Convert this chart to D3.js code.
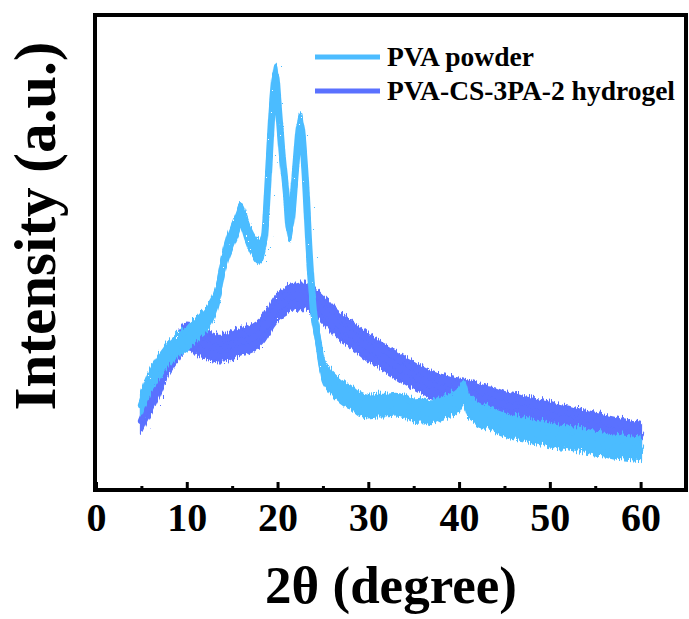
<!DOCTYPE html>
<html>
<head>
<meta charset="utf-8">
<script src="https://cdn.jsdelivr.net/npm/d3@7"></script>
<style>
  html, body { margin: 0; padding: 0; background: #fff; }
  svg text { font-family: "Liberation Serif", "Times New Roman", serif; font-weight: bold; fill: #000; }
</style>
</head>
<body>
<div id="chart"></div>
<script>
// 2-theta positions (degree)
const pvaX = [5, 5.5, 6, 6.5, 7, 7.5, 8, 8.5, 9, 9.5, 10, 10.5, 11, 11.5, 12, 12.5, 13, 13.5, 14, 14.5,
  15, 15.5, 16, 16.5, 17, 17.5, 18, 18.5, 19, 19.5, 19.8, 20, 20.5, 21, 21.3, 21.5, 22, 22.5, 23, 23.5,
  24, 24.5, 25, 25.5, 26, 26.5, 27, 27.5, 28, 29, 30, 31, 32, 33, 34, 35, 36, 37, 38, 39,
  40, 40.5, 41, 41.5, 42, 43, 44, 45, 46, 47, 48, 49, 50, 51, 52, 53, 54, 55, 56, 57, 58, 59, 60];
const pvaY = [18.9, 21.5, 23.6, 25.3, 26.9, 28.2, 29.5, 30.3, 31.4, 32.0, 32.6, 33.7, 34.3, 35.4, 36.2, 37.5, 39.4, 42.5, 48.0, 51.6,
  54.1, 56.4, 58.5, 56.0, 53.5, 51.8, 50.9, 53.1, 67.4, 83.2, 88.0, 83.8, 71.6, 62.1, 55.6, 57.3, 68.4, 77.8, 68.4, 50.5,
  37.9, 32.0, 26.1, 24.4, 23.2, 22.3, 21.5, 20.8, 20.4, 18.9, 18.3, 18.5, 18.5, 18.7, 18.3, 17.3, 17.5, 17.1, 17.9, 18.5,
  19.8, 21.3, 18.5, 17.7, 16.8, 16.0, 15.2, 14.5, 13.9, 13.5, 13.1, 12.6, 12.2, 11.8, 11.6, 11.2, 10.9, 10.5, 10.3, 9.9, 9.7, 9.5, 9.3];

const gelX = [5, 5.5, 6, 6.5, 7, 7.5, 8, 8.5, 9, 9.5, 10, 10.5, 11, 11.5, 12, 12.5, 13, 13.5, 14, 14.5,
  15, 15.5, 16, 16.5, 17, 17.5, 18, 18.5, 19, 19.5, 20, 20.5, 21, 21.5, 22, 22.5, 23, 23.5, 24, 25,
  26, 27, 28, 29, 30, 31, 32, 33, 34, 35, 36, 37, 38, 39, 40, 41, 42, 43, 44, 45,
  46, 47, 48, 49, 50, 51, 52, 53, 54, 55, 56, 57, 58, 59, 60];
const gelY = [15.6, 17.7, 19.4, 21.5, 23.6, 25.9, 28.0, 29.5, 30.9, 32.2, 33.3, 33.1, 32.0, 31.6, 31.4, 30.9, 30.7, 30.5, 30.5, 30.7,
  31.2, 31.6, 32.0, 32.2, 32.6, 33.1, 33.7, 34.7, 36.2, 37.9, 39.2, 40.0, 40.6, 41.1, 41.3, 41.5, 41.5, 41.1, 40.4, 38.7,
  36.6, 34.9, 33.7, 32.2, 30.7, 29.5, 28.4, 27.2, 25.9, 24.8, 23.8, 22.9, 22.3, 21.9, 21.5, 21.1, 20.4, 19.8, 19.4, 18.7,
  18.3, 17.7, 17.3, 16.8, 16.4, 15.8, 15.4, 14.9, 14.5, 14.1, 13.7, 13.3, 12.8, 12.4, 12.0];

const seriesNames = ["PVA powder", "PVA-CS-3PA-2 hydrogel"];
const seriesColors = ["#4cbcff", "#5a71ff"];
const majorTicks = [0, 10, 20, 30, 40, 50, 60];
const minorTicks = [5, 15, 25, 35, 45, 55];

const width = 689, height = 619;
const frameL = 95, frameR = 686, frameT = 15, frameB = 490;

const svg = d3.select("#chart").append("svg")
  .attr("width", width)
  .attr("height", height);

// jagged edge for the noisy XRD traces (vertical-only displacement)
const filt = svg.append("defs").append("filter")
  .attr("id", "jag")
  .attr("x", "-5%").attr("y", "-10%")
  .attr("width", "110%").attr("height", "120%");
filt.append("feTurbulence")
  .attr("type", "turbulence")
  .attr("baseFrequency", "0.45 0.008")
  .attr("numOctaves", 1)
  .attr("seed", 4)
  .attr("result", "t");
const ct = filt.append("feComponentTransfer").attr("in", "t").attr("result", "t2");
ct.append("feFuncG").attr("type", "linear").attr("slope", 0).attr("intercept", 0.5);
filt.append("feDisplacementMap")
  .attr("in", "SourceGraphic")
  .attr("in2", "t2")
  .attr("scale", 10)
  .attr("xChannelSelector", "G")
  .attr("yChannelSelector", "R");

const x = d3.scaleLinear().domain([0, 65]).range([96, 686]);
const y = d3.scaleLinear().domain([0, 100]).range([frameB, frameT]);

// noise band half-height (data units) per series
const band = [2.3, 2.7];

const series = [
  { name: seriesNames[1], color: seriesColors[1], xs: gelX, ys: gelY, band: band[1] },
  { name: seriesNames[0], color: seriesColors[0], xs: pvaX, ys: pvaY, band: band[0] }
];

const plot = svg.append("g").attr("filter", "url(#jag)");

series.forEach(s => {
  const pts = s.xs.map((d, i) => [d, s.ys[i]]);
  const area = d3.area()
    .x(d => x(d[0]))
    .y0(d => y(d[1] - s.band))
    .y1(d => y(d[1] + s.band))
    .curve(d3.curveMonotoneX);
  const line = d3.line()
    .x(d => x(d[0]))
    .y(d => y(d[1]))
    .curve(d3.curveMonotoneX);

  plot.append("path")
    .datum(pts)
    .attr("d", area)
    .attr("fill", s.color)
    .attr("stroke", s.color)
    .attr("stroke-width", 3)
    .attr("stroke-linejoin", "round");

  plot.append("path")
    .datum(pts)
    .attr("d", line)
    .attr("fill", "none")
    .attr("stroke", s.color)
    .attr("stroke-width", 7)
    .attr("stroke-linecap", "round")
    .attr("stroke-linejoin", "round");
});

// frame
svg.append("rect")
  .attr("x", frameL)
  .attr("y", frameT)
  .attr("width", frameR - frameL)
  .attr("height", frameB - frameT)
  .attr("fill", "none")
  .attr("stroke", "#000")
  .attr("stroke-width", 4);

// bottom axis, ticks pointing inward
const xAxis = svg.append("g")
  .attr("transform", "translate(0," + frameB + ")")
  .call(d3.axisBottom(x).tickValues(majorTicks).tickSize(-8).tickPadding(13));
xAxis.select(".domain").remove();
xAxis.selectAll("line").attr("stroke", "#000").attr("stroke-width", 3);
xAxis.selectAll("text").style("font-size", "40px");

const xMinor = svg.append("g")
  .attr("transform", "translate(0," + frameB + ")")
  .call(d3.axisBottom(x).tickValues(minorTicks).tickSize(-4).tickFormat(""));
xMinor.select(".domain").remove();
xMinor.selectAll("line").attr("stroke", "#000").attr("stroke-width", 3);

// axis titles
svg.append("text")
  .attr("x", 391)
  .attr("y", 603)
  .attr("text-anchor", "middle")
  .style("font-size", "53px")
  .text("2θ (degree)");

svg.append("text")
  .attr("transform", "translate(55,226) rotate(-90)")
  .attr("text-anchor", "middle")
  .style("font-size", "59px")
  .text("Intensity (a.u.)");

// legend
const legend = svg.append("g");
seriesNames.forEach((n, i) => {
  const ly = 57 + i * 34;
  legend.append("line")
    .attr("x1", 315).attr("x2", 380)
    .attr("y1", ly).attr("y2", ly)
    .attr("stroke", seriesColors[i])
    .attr("stroke-width", 5);
  legend.append("text")
    .attr("x", 387)
    .attr("y", ly + 9)
    .style("font-size", "27.5px")
    .text(n);
});
</script>
</body>
</html>
